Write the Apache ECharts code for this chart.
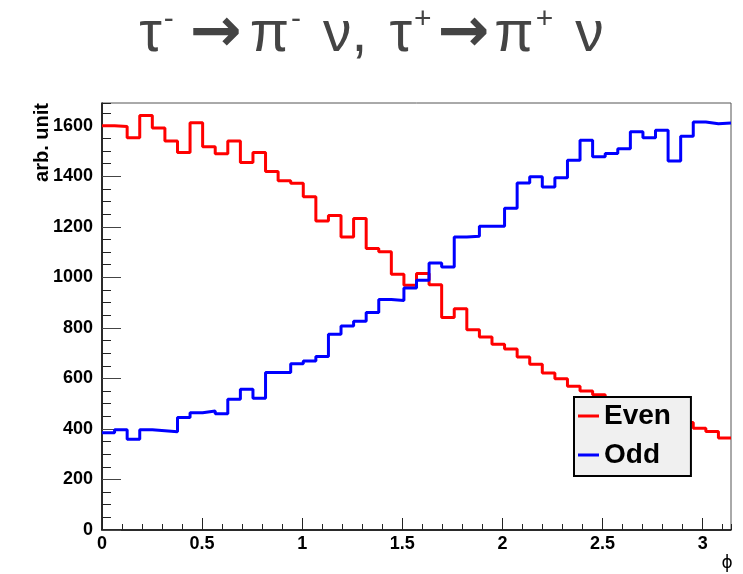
<!DOCTYPE html>
<html><head><meta charset="utf-8">
<script src="https://cdn.jsdelivr.net/npm/echarts@6/dist/echarts.min.js"></script>
<style>html,body{margin:0;padding:0;background:#fff}#c{width:743px;height:574px}</style>
</head><body><div id="c"></div>
<script>
// Histogram: 50 bins on [0, pi]
const nBins = 50;
const xMax = Math.PI;
const yMax = 1690;
const evenValues = [1600,1597,1552,1641,1591,1540,1494,1612,1517,1489,
  1540,1455,1494,1419,1382,1372,1319,1223,1245,1160,
  1233,1114,1101,1012,969,1015,971,841,876,793,
  764,735,716,685,656,621,599,569,550,535,
  520,500,488,470,452,440,425,403,390,364];
const oddValues = [385,397,359,397,393,389,445,464,471,460,
  517,557,521,623,623,658,669,687,775,807,
  826,861,912,908,958,988,1057,1041,1160,1163,
  1202,1202,1273,1373,1398,1358,1394,1463,1543,1477,
  1490,1509,1576,1552,1582,1460,1558,1615,1608,1611];
const seriesNames = ['Even','Odd'];
const seriesColors = ['#ff0000','#0000ff'];

function histPoints(vals){
  const w = xMax / nBins;
  const pts = vals.map((v,i)=>[i*w, v]);
  pts.push([xMax, vals[vals.length-1]]);
  return pts;
}

const chart = echarts.init(document.getElementById('c'), null, {renderer:'canvas'});
const labelFont = {fontFamily:'Liberation Sans', fontWeight:'bold', fontSize:18, color:'#000'};
chart.setOption({
  animation:false,
  backgroundColor:'#fff',
  title:{
    left:'center', top:0,
    text:'{a|τ}{s|-}{b|→}{a|π}{s|-}{v|ν}{a|,}{v|τ}{s|+}{c|→}{a|π}{s|+}{v|ν}',
    textStyle:{
      fontWeight:'normal',
      rich:{
        a:{fontFamily:'Liberation Sans', fontWeight:'normal', fontSize:57, lineHeight:60, color:'#444'},
        v:{fontFamily:'Liberation Sans', fontWeight:'normal', fontSize:57, lineHeight:60, color:'#444', padding:[0,0,0,22]},
        b:{fontFamily:'DejaVu Sans', fontWeight:'bold', fontSize:62, lineHeight:60, color:'#444', padding:[0,8,0,16]},
        c:{fontFamily:'DejaVu Sans', fontWeight:'bold', fontSize:62, lineHeight:60, color:'#444', padding:[0,5,0,6]},
        s:{fontFamily:'Liberation Sans', fontWeight:'normal', fontSize:30, lineHeight:30, color:'#444', verticalAlign:'top', padding:[0,0,0,2]}
      }
    }
  },
  grid:{left:102, right:12, top:103, bottom:44, show:true, borderColor:'#555', borderWidth:1, backgroundColor:'transparent'},
  legend:{
    orient:'vertical', left:574, top:397,
    padding:[5,20,7,4], itemGap:11,
    itemWidth:21, itemHeight:3, icon:'rect',
    backgroundColor:'#f0f0f0', borderColor:'#000', borderWidth:2,
    selectedMode:false,
    textStyle:{fontFamily:'Liberation Sans', fontWeight:'bold', fontSize:28, lineHeight:28, color:'#000'},
    data:seriesNames
  },
  xAxis:[
    {type:'value', min:0, max:xMax, interval:0.1, position:'bottom',
     axisLine:{show:true, lineStyle:{color:'#000', width:1.5}},
     axisTick:{show:true, inside:true, length:6, lineStyle:{color:'#222'}},
     axisLabel:{show:false}, splitLine:{show:false}},
    {type:'value', min:0, max:xMax, interval:0.5, position:'bottom',
     axisLine:{show:false},
     axisTick:{show:true, inside:true, length:12, lineStyle:{color:'#222'}},
     axisLabel:Object.assign({margin:5, showMaxLabel:false, formatter:function(v){
        const r = Math.round(v*2)/2; if (Math.abs(r-v)>1e-6) return ''; return String(r);}}, labelFont),
     splitLine:{show:false}}
  ],
  yAxis:[
    {type:'value', min:0, max:yMax, interval:50, position:'left',
     axisLine:{show:true, lineStyle:{color:'#000', width:1.5}},
     axisTick:{show:true, inside:true, length:9, lineStyle:{color:'#222'}},
     axisLabel:{show:false}, splitLine:{show:false}},
    {type:'value', min:0, max:yMax, interval:200, position:'left',
     axisLine:{show:false},
     axisTick:{show:true, inside:true, length:19, lineStyle:{color:'#444'}},
     axisLabel:Object.assign({margin:9, showMaxLabel:false, formatter:function(v){
        return (v%200===0)?String(v):'';}}, labelFont),
     splitLine:{show:false}}
  ],
  graphic:[
    {type:'text', x:42, y:103, rotation:Math.PI/2,
     style:{text:'arb. unit', fontFamily:'Liberation Sans', fontWeight:'bold', fontSize:20, fill:'#000', align:'right', verticalAlign:'middle'}},
    {type:'text', x:727, y:564,
     style:{text:'ϕ', fontFamily:'DejaVu Sans', fontSize:17, fill:'#000', align:'center', verticalAlign:'middle'}}
  ],
  series:[
    {name:seriesNames[0], type:'line', step:'end', xAxisIndex:0, yAxisIndex:0, symbol:'none',
     lineStyle:{color:seriesColors[0], width:3}, itemStyle:{color:seriesColors[0]},
     data:histPoints(evenValues)},
    {name:seriesNames[1], type:'line', step:'end', xAxisIndex:0, yAxisIndex:0, symbol:'none',
     lineStyle:{color:seriesColors[1], width:3}, itemStyle:{color:seriesColors[1]},
     data:histPoints(oddValues)}
  ]
});
</script>
</body></html>
